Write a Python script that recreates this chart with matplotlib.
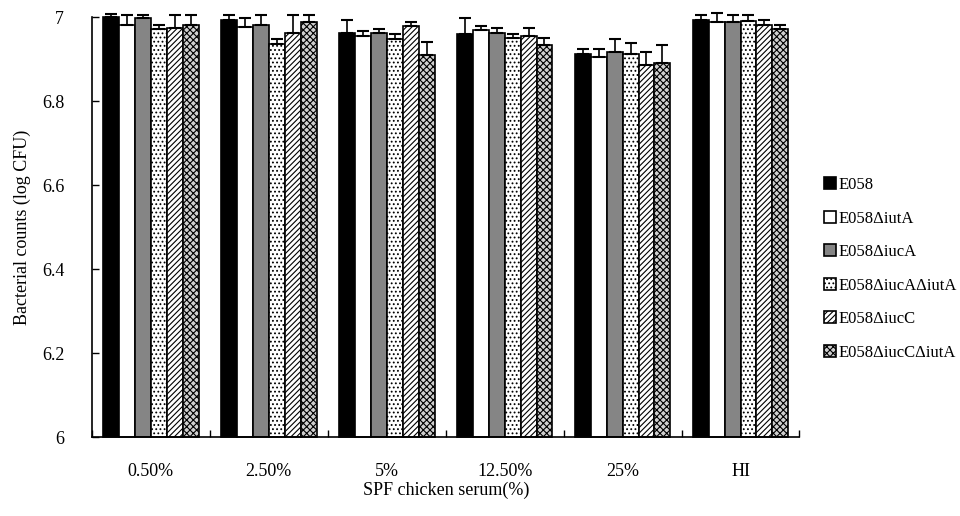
import matplotlib
matplotlib.use("Agg")
import matplotlib.pyplot as plt
import numpy as np

categories = ["0.50%", "2.50%", "5%", "12.50%", "25%", "HI"]
series = ["E058", "E058ΔiutA", "E058ΔiucA", "E058ΔiucAΔiutA", "E058ΔiucC", "E058ΔiucCΔiutA"]

# bar heights (log CFU)
E058 =            [7.000, 6.993, 6.963, 6.960, 6.913, 6.993]
E058_iutA =       [6.981, 6.977, 6.955, 6.969, 6.904, 6.988]
E058_iucA =       [6.997, 6.981, 6.963, 6.963, 6.916, 6.988]
E058_iucA_iutA =  [6.971, 6.936, 6.947, 6.951, 6.912, 6.991]
E058_iucC =       [6.973, 6.963, 6.979, 6.955, 6.886, 6.981]
E058_iucC_iutA =  [6.981, 6.989, 6.910, 6.933, 6.891, 6.971]

# upper error bar tips
E058_top =           [7.007, 7.004, 6.993, 6.997, 6.924, 7.004]
E058_iutA_top =      [7.005, 6.997, 6.967, 6.979, 6.924, 7.009]
E058_iucA_top =      [7.004, 7.004, 6.971, 6.973, 6.948, 7.005]
E058_iucA_iutA_top = [6.982, 6.947, 6.960, 6.959, 6.937, 7.004]
E058_iucC_top =      [7.005, 7.004, 6.989, 6.974, 6.916, 6.993]
E058_iucC_iutA_top = [7.005, 7.004, 6.940, 6.951, 6.933, 6.982]

values = [E058, E058_iutA, E058_iucA, E058_iucA_iutA, E058_iucC, E058_iucC_iutA]
tops = [E058_top, E058_iutA_top, E058_iucA_top, E058_iucA_iutA_top, E058_iucC_top, E058_iucC_iutA_top]

faces = ["black", "white", "#858585", "white", "white", "#d0d0d0"]
hatches = [None, None, None, "....", "//////", "xxxxx"]

plt.rcParams['font.family'] = ['Liberation Serif', 'DejaVu Serif']
plt.rcParams['hatch.linewidth'] = 0.8

fig = plt.figure(figsize=(9.6, 5.16), dpi=100)
ax = fig.add_axes([0.0958, 0.153, 0.737, 0.814])

x = np.arange(len(categories)) + 0.5
w = 0.135
for i, (vals, tp) in enumerate(zip(values, tops)):
    pos = x + (i - 2.5) * w
    vals = np.array(vals)
    err = np.array(tp) - vals
    ax.bar(pos, vals - 6, bottom=6, width=w, color=faces[i], edgecolor="black",
           linewidth=1.2, hatch=hatches[i], label=series[i], zorder=2, clip_on=False)
    eb = ax.errorbar(pos, vals, yerr=[np.zeros_like(err), err], fmt="none",
                     ecolor="black", elinewidth=1.2, capsize=4, capthick=1.5, zorder=3)
    for art in eb.lines[1] + eb.lines[2]:
        art.set_clip_on(False)

ax.set_xlim(0, 6)
ax.set_ylim(6, 7)
ax.set_yticks([6, 6.2, 6.4, 6.6, 6.8, 7])
ax.set_yticklabels(["6", "6.2", "6.4", "6.6", "6.8", "7"])
ax.set_xticks(x)
ax.set_xticklabels(categories)
ax.set_xticks(np.arange(0, 7), minor=True)
ax.tick_params(axis="x", which="major", length=0, pad=19, labelsize=13)
ax.tick_params(axis="x", which="minor", direction="in", length=5, width=1)
ax.tick_params(axis="y", direction="in", length=5, width=1, labelsize=13, pad=20)
for s in ["top", "right"]:
    ax.spines[s].set_visible(False)
for s in ["left", "bottom"]:
    ax.spines[s].set_linewidth(1.2)

ax.set_ylabel("Bacterial counts (log CFU)", fontsize=13, labelpad=8)
ax.set_xlabel("SPF chicken serum(%)", fontsize=13, labelpad=1)

leg = ax.legend(loc="upper left", bbox_to_anchor=(1.025, 0.635), frameon=False,
                fontsize=12, handlelength=0.7, handleheight=0.7, handletextpad=0.2,
                labelspacing=1.05, borderaxespad=0)

fig.savefig("out.png", dpi=100)
